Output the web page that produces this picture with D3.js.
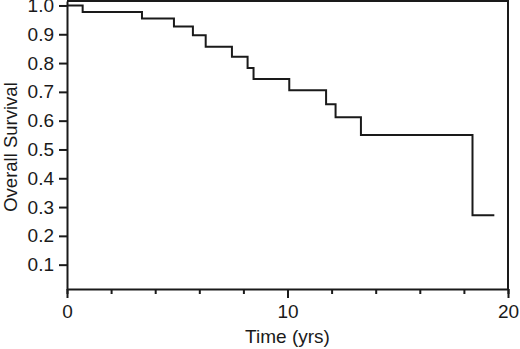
<!DOCTYPE html>
<html>
<head>
<meta charset="utf-8">
<script src="https://cdn.jsdelivr.net/npm/d3@7/dist/d3.min.js"></script>
<style>
  html, body { margin: 0; padding: 0; background: #fff; }
  svg { display: block; }
  .axis text { font-family: "Liberation Sans", Arial, sans-serif; font-size: 19px; fill: #1a1a1a; }
  .axis path, .axis line { stroke: #1a1a1a; stroke-width: 2; }
  .title { font-family: "Liberation Sans", Arial, sans-serif; font-size: 19px; fill: #1a1a1a; }
</style>
</head>
<body>
<svg id="chart" width="520" height="349"></svg>
<script>
  // Kaplan-Meier steps
  const times = [0, 0.71, 3.40, 4.85, 5.71, 6.29, 7.48, 8.19, 8.46, 10.08, 11.75, 12.18, 13.33, 18.39, 19.38];
  const survival = [1.0, 0.977, 0.955, 0.927, 0.897, 0.857, 0.822, 0.783, 0.745, 0.706, 0.657, 0.612, 0.550, 0.272, 0.272];
  const yTicks = [0.1, 0.2, 0.3, 0.4, 0.5, 0.6, 0.7, 0.8, 0.9, 1.0];
  const xMinorTicks = [0, 2, 4, 6, 8, 10, 12, 14, 16, 18, 20];
  const xMajorTicks = [0, 10, 20];

  (function () {
    const svg = d3.select("#chart");
    const mLeft = 67, mRight = 508, mTop = 1, mBottom = 289;
    const yMin = 0.0155, yMax = 1.0155;

    const x = d3.scaleLinear().domain([0, 20]).range([mLeft, mRight]);
    const y = d3.scaleLinear().domain([yMin, yMax]).range([mBottom, mTop]);

    // frame (top and right)
    svg.append("path")
      .attr("d", `M${x(0)},${y(yMax)}H${x(20)}V${y(yMin)}`)
      .attr("fill", "none")
      .attr("stroke", "#1a1a1a")
      .attr("stroke-width", 2);

    // y axis
    svg.append("g")
      .attr("class", "axis")
      .attr("transform", `translate(${mLeft},0)`)
      .call(d3.axisLeft(y).tickValues(yTicks).tickFormat(d3.format(".1f")).tickSize(8).tickSizeOuter(0).tickPadding(5));

    // x axis: minor ticks then labelled ones
    svg.append("g")
      .attr("class", "axis")
      .attr("transform", `translate(0,${mBottom})`)
      .call(d3.axisBottom(x).tickValues(xMinorTicks).tickFormat("").tickSize(5).tickSizeOuter(0));

    svg.append("g")
      .attr("class", "axis")
      .attr("transform", `translate(0,${mBottom})`)
      .call(d3.axisBottom(x).tickValues(xMajorTicks).tickFormat(d3.format("d")).tickSize(9).tickSizeOuter(0).tickPadding(7))
      .call((g) => g.select(".domain").remove());

    // survival curve
    const pts = times.map((t, i) => [t, survival[i]]);
    const line = d3.line()
      .x((d) => x(d[0]))
      .y((d) => y(d[1]))
      .curve(d3.curveStepAfter);

    svg.append("path")
      .datum(pts)
      .attr("d", line)
      .attr("fill", "none")
      .attr("stroke", "#1a1a1a")
      .attr("stroke-width", 2);

    // axis titles
    svg.append("text")
      .attr("class", "title")
      .attr("x", x(10))
      .attr("y", 343)
      .attr("text-anchor", "middle")
      .text("Time (yrs)");

    svg.append("text")
      .attr("class", "title")
      .attr("transform", "translate(17,147) rotate(-90)")
      .attr("text-anchor", "middle")
      .style("font-size", "18.5px")
      .text("Overall Survival");
  })();
</script>
</body>
</html>
